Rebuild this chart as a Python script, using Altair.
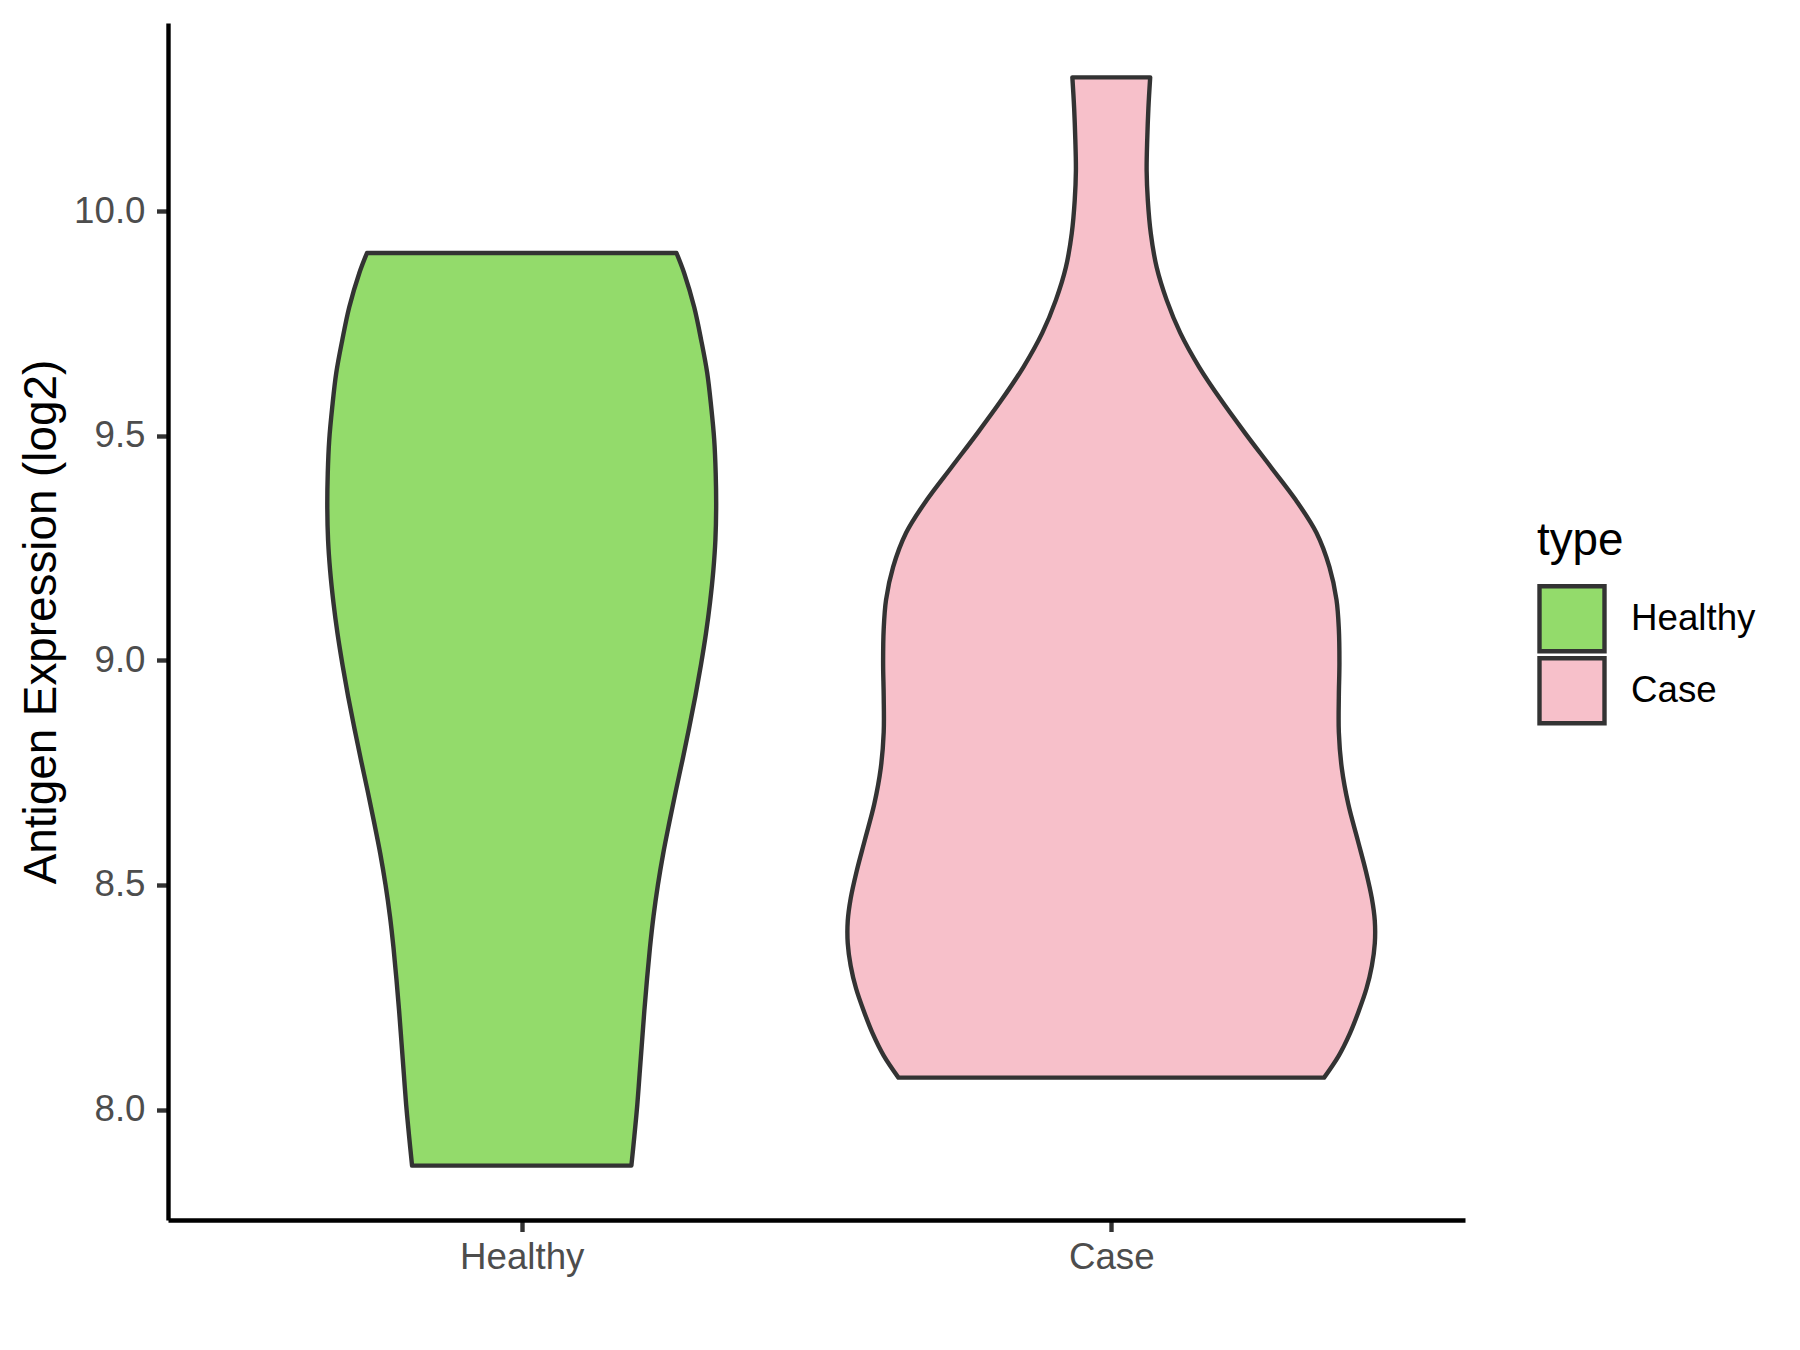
import altair as alt
import pandas as pd

# Categories and fills
categories = ["Healthy", "Case"]
fill_colors = ["#93DB6B", "#F7C0CA"]

# Violin outlines: expression value (log2) and half-width (x units)
healthy_value = [9.907, 9.862, 9.786, 9.713, 9.640, 9.564, 9.491, 9.417, 9.341, 9.268,
                 9.200, 9.130, 9.060, 8.990, 8.920, 8.850, 8.780, 8.710, 8.640, 8.570,
                 8.500, 8.430, 8.360, 8.290, 8.220, 8.150, 8.080, 8.010, 7.940, 7.875]
healthy_half = [0.2625, 0.2756, 0.2926, 0.3044, 0.3146, 0.3214, 0.3265, 0.3290, 0.3298, 0.3285,
                0.3250, 0.3195, 0.3125, 0.3040, 0.2945, 0.2840, 0.2730, 0.2615, 0.2505, 0.2400,
                0.2310, 0.2235, 0.2175, 0.2125, 0.2080, 0.2040, 0.2000, 0.1960, 0.1910, 0.1860]

case_value = [10.298, 10.230, 10.160, 10.090, 10.024, 9.951, 9.875, 9.802, 9.729, 9.653,
              9.580, 9.506, 9.430, 9.357, 9.284, 9.208, 9.135, 9.070, 8.994, 8.920,
              8.840, 8.760, 8.680, 8.600, 8.530, 8.470, 8.420, 8.370, 8.320, 8.270,
              8.220, 8.170, 8.120, 8.071]
case_half = [0.066, 0.063, 0.061, 0.060, 0.062, 0.067, 0.077, 0.094, 0.117, 0.149,
             0.186, 0.227, 0.271, 0.313, 0.348, 0.370, 0.382, 0.386, 0.387, 0.386,
             0.386, 0.391, 0.402, 0.418, 0.432, 0.442, 0.447, 0.447, 0.442, 0.433,
             0.420, 0.405, 0.386, 0.361]

y_ticks = [8.0, 8.5, 9.0, 9.5, 10.0]

rows = []
for i, (cat, vals, halves) in enumerate(zip(categories,
                                            [healthy_value, case_value],
                                            [healthy_half, case_half])):
    for v, h in zip(vals, halves):
        rows.append({"type": cat, "pos": i + 1, "value": v, "half": h})
df = pd.DataFrame(rows)

label_expr = f"datum.value == 1 ? '{categories[0]}' : '{categories[1]}'"

FONT = "Liberation Sans"

chart = (
    alt.Chart(df)
    .transform_calculate(lo="datum.pos - datum.half", hi="datum.pos + datum.half")
    .mark_area(orient="horizontal", interpolate="catmull-rom", stroke="#333333",
               strokeWidth=4.4, strokeJoin="round", opacity=1, fillOpacity=1)
    .encode(
        y=alt.Y("value:Q",
                scale=alt.Scale(domain=[7.754, 10.419], nice=False, zero=False),
                axis=alt.Axis(values=y_ticks, format=".1f",
                              title="Antigen Expression (log2)",
                              grid=False, domainColor="black", domainWidth=4.4,
                              tickColor="#333333", tickWidth=4.4, tickSize=11.5,
                              labelFont=FONT, labelFontSize=36.7, labelColor="#4D4D4D",
                              labelPadding=11.5,
                              titleFont=FONT, titleFontSize=45.8, titleColor="black",
                              titleFontWeight="normal", titlePadding=8.5)),
        x=alt.X("lo:Q",
                scale=alt.Scale(domain=[0.4, 2.6], nice=False, zero=False),
                axis=alt.Axis(values=[1, 2], labelExpr=label_expr, title=None,
                              grid=False, domainColor="black", domainWidth=4.4,
                              tickColor="#333333", tickWidth=4.4, tickSize=11.5,
                              labelFont=FONT, labelFontSize=36.7, labelColor="#4D4D4D",
                              labelPadding=8)),
        x2="hi:Q",
        color=alt.Color("type:N",
                        scale=alt.Scale(domain=categories, range=fill_colors),
                        legend=alt.Legend(title="type", orient="none",
                                          legendX=1369, legendY=496,
                                          symbolType="square", symbolSize=4225,
                                          symbolStrokeColor="#333333",
                                          symbolStrokeWidth=4.4, symbolOpacity=1,
                                          clipHeight=72, rowPadding=0, labelOffset=24,
                                          titleFont=FONT, titleFontSize=45.8,
                                          titleColor="black", titleFontWeight="normal",
                                          titlePadding=18,
                                          labelFont=FONT, labelFontSize=36.7,
                                          labelColor="black")),
    )
    .properties(width=1297, height=1197,
                autosize=alt.AutoSizeParams(type="none"),
                padding={"left": 160, "top": 15, "right": 300, "bottom": 100})
    .configure(background="white", view=alt.ViewConfig(stroke="transparent", strokeWidth=0))
)

chart.save("out.html", embed_options={"renderer": "svg", "actions": False})
